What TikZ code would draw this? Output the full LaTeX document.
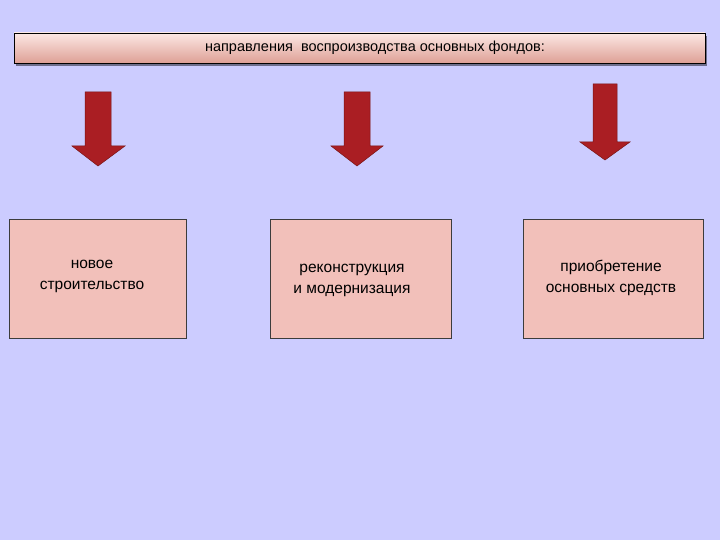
\documentclass[tikz,border=0pt]{standalone}
\usepackage{fontspec}
\setmainfont{Liberation Sans}
\definecolor{bg}{RGB}{204,204,255}
\definecolor{arrf}{RGB}{170,30,35}
\definecolor{arrd}{RGB}{120,20,20}
\definecolor{boxb}{RGB}{60,60,60}
\definecolor{boxf}{RGB}{242,192,186}
\definecolor{shad}{RGB}{110,110,140}
\definecolor{htop}{RGB}{252,232,228}
\definecolor{hbot}{RGB}{222,160,150}
\begin{document}
\begin{tikzpicture}[x=1pt,y=-1pt,
  arr/.style={fill=arrf,draw=arrd,line width=0.5pt},
  boxn/.style={draw=boxb,fill=boxf,line width=0.6pt,minimum width=177pt,minimum height=119pt,align=center,font=\fontsize{15.5}{21}\selectfont,inner sep=0pt}]
\fill[bg] (0,0) rectangle (720,540);
\fill[shad] (16,36) rectangle (707,66);
\shade[top color=htop,bottom color=hbot,draw=black,line width=0.5pt] (14,33) rectangle (705,63);
\node[font=\fontsize{14.5}{16}\selectfont] (h) at (375,48) {направления\ \ воспроизводства основных фондов:};
\foreach \n/\l/\r/\hl/\hr/\t/\b/\tip in {a1/85/111/72/125/92/146/166,a2/344/370/331/383/92/146/166,a3/593/617/580/630/84/142/160}{
  \draw[arr] (\l,\t) -- (\r,\t) -- (\r,\b) -- (\hr,\b) -- ({(\l+\r)/2},\tip) -- (\hl,\b) -- (\l,\b) -- cycle;
}
\node[boxn] (b1) at (97.5,278.5) {};
\node[font=\fontsize{15.5}{21}\selectfont,align=center] at (92,276) {новое\\строительство};
\node[boxn,minimum width=181pt] (b2) at (360.5,278.5) {};
\node[font=\fontsize{15.5}{21}\selectfont,align=center] at (352,280) {реконструкция\\и модернизация};
\node[boxn,minimum width=180pt] (b3) at (613,278.5) {};
\node[font=\fontsize{15.5}{21}\selectfont,align=center] at (611,278) {приобретение\\основных средств};
\end{tikzpicture}
\end{document}
